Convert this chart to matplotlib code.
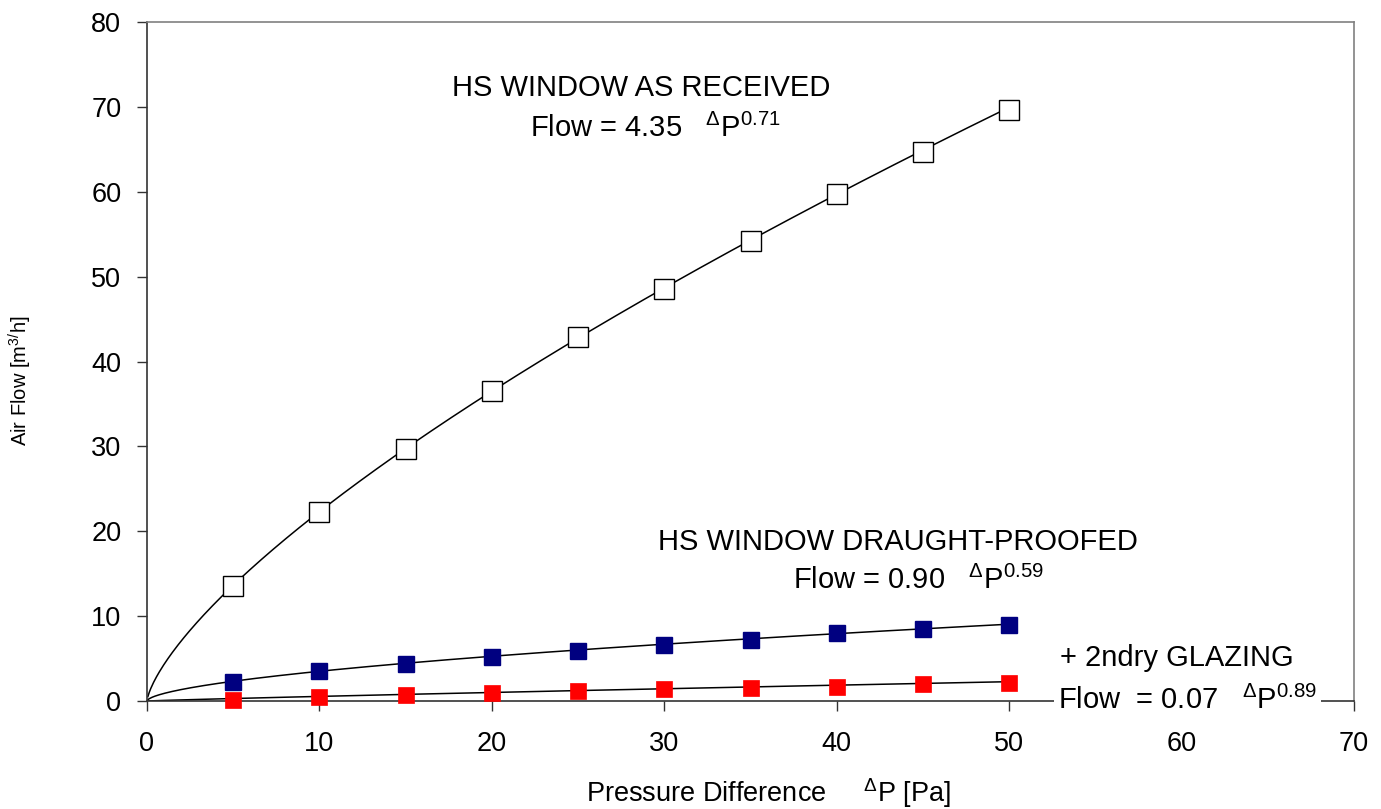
import numpy as np
import matplotlib
matplotlib.use("Agg")
import matplotlib.pyplot as plt

plt.rcParams['font.family'] = ['Liberation Sans', 'DejaVu Sans']
plt.rcParams['mathtext.fontset'] = 'custom'
plt.rcParams['mathtext.rm'] = 'Liberation Sans'
plt.rcParams['mathtext.it'] = 'Liberation Sans'
plt.rcParams['mathtext.bf'] = 'Liberation Sans'

# Data
pressure = [5, 10, 15, 20, 25, 30, 35, 40, 45, 50]
flow_received = [13.6, 22.3, 29.7, 36.5, 42.9, 48.5, 54.2, 59.7, 64.7, 69.6]
flow_draught = [2.2, 3.5, 4.4, 5.2, 5.9, 6.6, 7.2, 8.0, 8.5, 9.0]
flow_glazing = [0.1, 0.5, 0.7, 0.9, 1.2, 1.4, 1.5, 1.7, 2.0, 2.1]

# Fitted power laws shown on the chart: Flow = C * dP^n
fit_received = (4.35, 0.71)
fit_draught = (0.90, 0.59)
fit_glazing = (0.07, 0.89)

xticks = [0, 10, 20, 30, 40, 50, 60, 70]
yticks = [0, 10, 20, 30, 40, 50, 60, 70, 80]

fig = plt.figure(figsize=(13.81, 8.09), dpi=100)
ax = fig.add_axes([147/1381, 1 - 701/809, (1354-147)/1381, (701-22)/809])

dp = np.linspace(0.05, 50, 600)
for C, n in (fit_received, fit_draught, fit_glazing):
    ax.plot(dp, C * dp**n, color='black', lw=1.1, zorder=2)

ax.plot(pressure, flow_received, ls='none', marker='s', ms=14.5, mfc='white',
        mec='black', mew=1.0, zorder=3, clip_on=False)
ax.plot(pressure, flow_draught, ls='none', marker='s', ms=11, mfc='#000080',
        mec='#000080', mew=1.0, zorder=3, clip_on=False)
ax.plot(pressure, flow_glazing, ls='none', marker='s', ms=12, mfc='#FF0000',
        mec='#FF0000', mew=0.5, zorder=3, clip_on=False)

ax.set_xlim(0, 70)
ax.set_ylim(0, 80)
ax.set_xticks(xticks)
ax.set_yticks(yticks)
ax.tick_params(axis='both', direction='out', length=7.5, width=1.0,
               labelsize=19.5, color='#333333')
ax.tick_params(axis='x', pad=14)
ax.tick_params(axis='y', pad=11)

for s in ('top', 'right'):
    ax.spines[s].set_color('#808080')
    ax.spines[s].set_linewidth(1.2)
for s in ('left', 'bottom'):
    ax.spines[s].set_color('#333333')
    ax.spines[s].set_linewidth(1.2)

# annotations (figure pixel coordinates)
def ftext(x, y, s, size=21, ha='left', **kw):
    fig.text(x/1381, 1 - y/809, s, fontsize=size, ha=ha, va='center', **kw)

ftext(641, 88, 'HS WINDOW AS RECEIVED', ha='center')
ftext(530, 128, r'Flow = 4.35   $^{\Delta}$P$^{0.71}$')
ftext(898, 542, 'HS WINDOW DRAUGHT-PROOFED', ha='center')
ftext(793, 580, r'Flow = 0.90   $^{\Delta}$P$^{0.59}$')
ftext(1060, 658, '+ 2ndry GLAZING')
fig.text(1058/1381, 1 - 700/809, r'Flow  = 0.07   $^{\Delta}$P$^{0.89}$', fontsize=21,
         ha='left', va='center',
         bbox=dict(facecolor='white', edgecolor='none', pad=3))

ftext(768, 793, r'Pressure Difference     $^{\Delta}$P [Pa]', size=19.5, ha='center')
fig.text(20/1381, 1 - 381/809, r'Air Flow [m$^{3/}$h]', fontsize=14.5, rotation=90,
         ha='center', va='center')

fig.savefig('out.png', dpi=100)
